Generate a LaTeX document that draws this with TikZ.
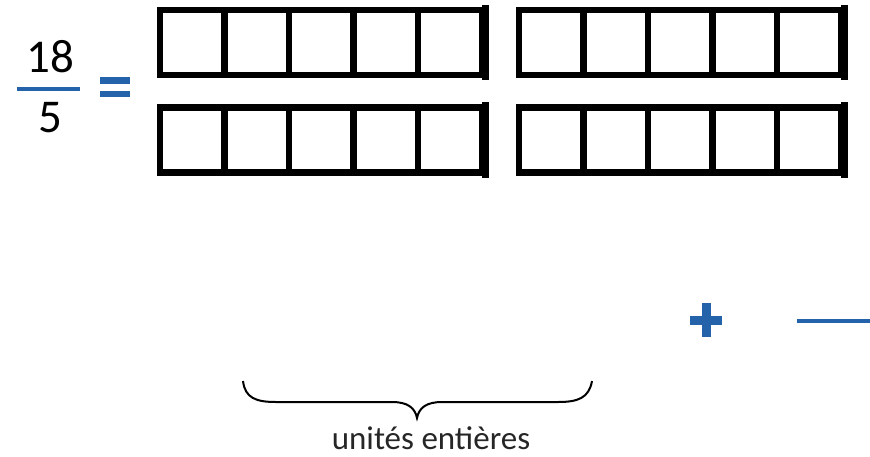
\documentclass[tikz,border=0pt]{standalone}
\usepackage{fontspec}
\setmainfont{Carlito}
\definecolor{mathblue}{HTML}{2463AA}
\tikzset{
  cellbox/.style={draw, line width=6.5pt, inner sep=0pt,
    minimum width=64.5pt, minimum height=65pt},
  endbar/.style={line width=7pt},
  bluebar/.style={mathblue, line width=#1},
}
\begin{document}
\begin{tikzpicture}[x=1pt, y=-1pt]
  \useasboundingbox (0,0) rectangle (870,456);

  % the fraction and the equals sign
  \node[anchor=base, font=\fontsize{47}{50}\selectfont] (num) at (50,72) {18};
  \node[anchor=base, font=\fontsize{47}{50}\selectfont] (den) at (50,132) {5};
  \draw[bluebar=4pt] (17,89) -- (80,89);
  \draw[bluebar=6.5pt] (100,80.5) -- (130,80.5);
  \draw[bluebar=6.5pt] (100,94) -- (130,94);

  % two rows of two bars, five cells each
  \foreach \r/\y in {1/42.5, 2/140} {
    \foreach \b/\x in {1/160, 2/519} {
      \foreach \i in {1,...,5} {
        \node[cellbox] (c-\r-\b-\i) at ({\x + 64.5 * (\i - 0.5)}, \y) {};
      }
      \draw[endbar] ([yshift=2pt]c-\r-\b-5.north east) -- ([yshift=-2pt]c-\r-\b-5.south east);
    }
  }

  % plus and the start of a fraction bar
  \draw[bluebar=9pt] (690,320) -- (722,320);
  \draw[bluebar=9pt] (706,303) -- (706,337);
  \draw[bluebar=4pt] (797,321) -- (870,321);

  % brace with its label
  \draw[line width=2pt] (243,381) .. controls (245,398) and (256,402) .. (276,402)
    -- (392,402) .. controls (408,402) and (415,408) .. (417,418)
    .. controls (419,408) and (426,402) .. (442,402)
    -- (558,402) .. controls (578,402) and (589,398) .. (592,381);
  \node[anchor=base, font=\fontsize{33}{36}\selectfont, text=black!85] (lab) at (431,449) {unités entières};
\end{tikzpicture}
\end{document}
